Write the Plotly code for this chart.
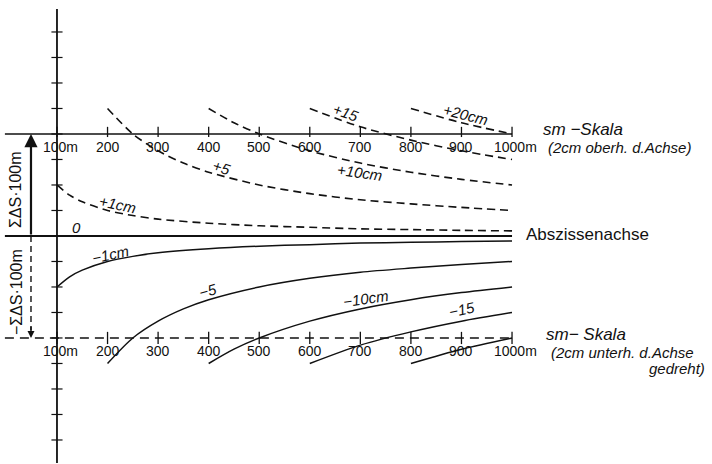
import plotly.graph_objects as go

# ---- data ----
dist_ticks = [100, 200, 300, 400, 500, 600, 700, 800, 900, 1000]
dist_labels = ["100m", "200", "300", "400", "500", "600", "700", "800", "900", "1000m"]
axis_ticks = [-4, -3.5, -3, -2.5, -2, -1.5, -1, -0.5, 0.5, 1, 1.5, 2, 2.5, 3, 3.5, 4]

x_p1 = [100, 125, 150, 200, 250, 300, 400, 500, 600, 700, 800, 900, 1000]
y_p1 = [1.0, 0.8, 0.67, 0.5, 0.4, 0.33, 0.25, 0.2, 0.17, 0.14, 0.125, 0.11, 0.1]
x_p5 = [200, 250, 300, 350, 400, 500, 600, 700, 800, 900, 1000]
y_p5 = [2.5, 2.0, 1.67, 1.43, 1.25, 1.0, 0.83, 0.71, 0.63, 0.56, 0.5]
x_p10 = [400, 450, 500, 600, 700, 800, 900, 1000]
y_p10 = [2.5, 2.22, 2.0, 1.67, 1.43, 1.25, 1.11, 1.0]
x_p15 = [600, 700, 800, 900, 1000]
y_p15 = [2.5, 2.14, 1.88, 1.67, 1.5]
x_p20 = [800, 900, 1000]
y_p20 = [2.5, 2.22, 2.0]

x_m1 = [100, 125, 150, 200, 250, 300, 400, 500, 600, 700, 800, 900, 1000]
y_m1 = [-1.0, -0.8, -0.67, -0.5, -0.4, -0.33, -0.25, -0.2, -0.17, -0.14, -0.125, -0.11, -0.1]
x_m5 = [200, 250, 300, 350, 400, 500, 600, 700, 800, 900, 1000]
y_m5 = [-2.5, -2.0, -1.67, -1.43, -1.25, -1.0, -0.83, -0.71, -0.63, -0.56, -0.5]
x_m10 = [400, 450, 500, 600, 700, 800, 900, 1000]
y_m10 = [-2.5, -2.22, -2.0, -1.67, -1.43, -1.25, -1.11, -1.0]
x_m15 = [600, 700, 800, 900, 1000]
y_m15 = [-2.5, -2.14, -1.88, -1.67, -1.5]
x_m20 = [800, 900, 1000]
y_m20 = [-2.5, -2.22, -2.0]

curve_labels = ["0", "+1cm", "+5", "+10cm", "+15", "+20cm", "\u22121cm", "\u22125", "\u221210cm", "\u221215"]

# ---- drawing ----
INK = "#111111"
NUM_FONT = "Liberation Sans Narrow, Liberation Sans, DejaVu Sans"
ITAL_FONT = "Liberation Sans, DejaVu Sans"

fig = go.Figure()

def line(xs, ys, width=1.6, dash="solid"):
    fig.add_trace(go.Scatter(x=xs, y=ys, mode="lines", hoverinfo="skip",
                             line=dict(color=INK, width=width, dash=dash, shape="spline", smoothing=0.8)))

# curves
for xs, ys in [(x_p1, y_p1), (x_p5, y_p5), (x_p10, y_p10), (x_p15, y_p15), (x_p20, y_p20)]:
    line(xs, ys, 1.6, "8px,5px")
for xs, ys in [(x_m1, y_m1), (x_m5, y_m5), (x_m10, y_m10), (x_m15, y_m15), (x_m20, y_m20)]:
    line(xs, ys, 1.5, "solid")

x_left = -3
x_right = dist_ticks[-1]
# scale lines and abscissa
fig.add_trace(go.Scatter(x=[x_left, x_right], y=[2, 2], mode="lines", hoverinfo="skip",
                         line=dict(color=INK, width=1.5)))
fig.add_trace(go.Scatter(x=[x_left, x_right], y=[0, 0], mode="lines", hoverinfo="skip",
                         line=dict(color=INK, width=1.8)))
fig.add_trace(go.Scatter(x=[x_left, x_right], y=[-2, -2], mode="lines", hoverinfo="skip",
                         line=dict(color=INK, width=1.4, dash="9px,6px")))

# vertical axis
fig.add_trace(go.Scatter(x=[100, 100], y=[4.45, -4.45], mode="lines", hoverinfo="skip",
                         line=dict(color=INK, width=1.8)))

# ticks on scale lines
tx, ty = [], []
for t in dist_ticks:
    tx += [t, t, None, t, t, None]
    ty += [2.14, 1.94, None, -1.88, -2.12, None]
fig.add_trace(go.Scatter(x=tx, y=ty, mode="lines", hoverinfo="skip",
                         line=dict(color=INK, width=1.3)))
# ticks on vertical axis
vx, vy = [], []
for t in axis_ticks:
    vx += [89, 111, None]
    vy += [t, t, None]
fig.add_trace(go.Scatter(x=vx, y=vy, mode="lines", hoverinfo="skip",
                         line=dict(color=INK, width=1.2)))

# lower dashed arrow shaft
fig.add_trace(go.Scatter(x=[48.6, 48.6], y=[0, -1.85], mode="lines", hoverinfo="skip",
                         line=dict(color=INK, width=1.4, dash="6px,4px")))

ann = []
# upper arrow
ann.append(dict(x=48.6, y=2, ax=48.6, ay=0, xref="x", yref="y", axref="x", ayref="y",
                showarrow=True, arrowhead=2, arrowsize=1.2, arrowwidth=2.2, arrowcolor=INK, text=""))
ann.append(dict(x=48.6, y=-2, ax=48.6, ay=-1.75, xref="x", yref="y", axref="x", ayref="y",
                showarrow=True, arrowhead=2, arrowsize=1.0, arrowwidth=1.4, arrowcolor=INK, text=""))
ann.append(dict(x=17, y=0.9, text="\u03a3\u0394S\u00b7100m", textangle=-90, showarrow=False,
                font=dict(family=NUM_FONT, size=16, color=INK)))
ann.append(dict(x=19, y=-1.1, text="\u2212\u03a3\u0394S\u00b7100m", textangle=-90, showarrow=False,
                font=dict(family=NUM_FONT, size=16, color=INK)))

# distance labels
for t, lab in zip(dist_ticks, dist_labels):
    off = 6 if lab.endswith("m") else 0
    ann.append(dict(x=t + off, y=1.745, text=lab, showarrow=False,
                    font=dict(family=NUM_FONT, size=14, color=INK)))
    ann.append(dict(x=t + off, y=-2.25, text=lab, showarrow=False,
                    font=dict(family=NUM_FONT, size=14, color=INK)))

# curve labels: position and rotation
lab_pos = [(138, 0.16, 0), (220, 0.61, 12), (426, 1.35, 18), (699, 1.24, 8), (672, 2.43, 20),
           (907, 2.39, 14), (205, -0.37, -12), (399, -1.06, -15), (711, -1.22, -8), (901, -1.45, -12)]
for lab, (lx, ly, ang) in zip(curve_labels, lab_pos):
    ann.append(dict(x=lx, y=ly, text="<i>" + lab + "</i>", textangle=ang, showarrow=False,
                    font=dict(family=ITAL_FONT, size=15, color=INK)))

# right-hand texts
right = [(1058, 2.08, "<i>sm \u2212Skala</i>", 17),
         (1068, 1.73, "<i>(2cm oberh. d.Achse)</i>", 15),
         (1023, 0.02, "Abszissenachse", 17),
         (1064, -1.94, "<i>sm\u2212 Skala</i>", 17),
         (1074, -2.29, "<i>(2cm unterh. d.Achse</i>", 15),
         (1266, -2.59, "<i>gedreht)</i>", 15)]
for rx, ry, txt, sz in right:
    ann.append(dict(x=rx, y=ry, text=txt, xanchor="left", showarrow=False,
                    font=dict(family=ITAL_FONT, size=sz, color=INK)))

fig.update_layout(
    width=712, height=464, margin=dict(l=0, r=0, t=0, b=0),
    paper_bgcolor="white", plot_bgcolor="white", showlegend=False,
    xaxis=dict(range=[-12.7, 1395.5], visible=False, fixedrange=True),
    yaxis=dict(range=[-4.471, 4.627], visible=False, fixedrange=True),
    annotations=ann,
)
fig.write_html("out.html", config={"displayModeBar": False},
               post_script="document.body.style.margin='0';document.body.style.overflow='hidden';")
